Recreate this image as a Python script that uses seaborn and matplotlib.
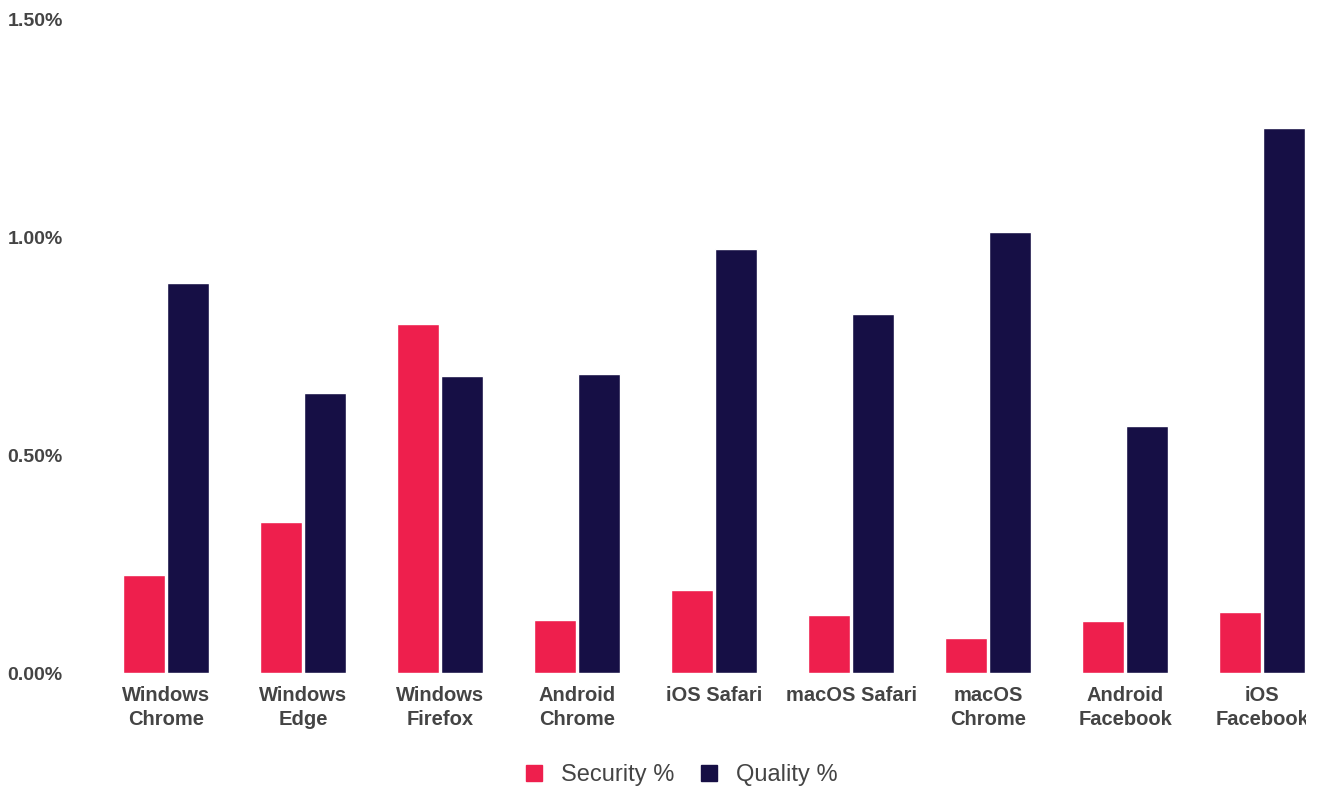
import matplotlib
matplotlib.use("Agg")
import matplotlib.pyplot as plt
import seaborn as sns
import pandas as pd
from matplotlib.ticker import FuncFormatter
from matplotlib.transforms import Bbox, TransformedBbox
from matplotlib.lines import Line2D

categories = ["Windows\nChrome", "Windows\nEdge", "Windows\nFirefox", "Android\nChrome",
              "iOS Safari", "macOS Safari", "macOS\nChrome", "Android\nFacebook", "iOS\nFacebook"]
security = [0.225, 0.346, 0.800, 0.122, 0.190, 0.133, 0.080, 0.119, 0.140]
quality = [0.894, 0.642, 0.681, 0.686, 0.972, 0.823, 1.011, 0.567, 1.250]
series = ["Security %", "Quality %"]
colors = ["#EE1F4D", "#160F45"]
yticks = [0.0, 0.5, 1.0, 1.5]

df = pd.DataFrame({
    "Browser": categories * 2,
    "Series": [series[0]] * len(categories) + [series[1]] * len(categories),
    "Value": security + quality,
})

sns.set_theme(style="white")
plt.rcParams['font.family'] = ['Liberation Sans', 'DejaVu Sans']

fig = plt.figure(figsize=(13.24, 7.89), dpi=100)
ax = fig.add_axes([97.5 / 1324, 116 / 789, 1233 / 1324, (770 - 116) / 789])

sns.barplot(data=df, x="Browser", y="Value", hue="Series", palette=colors,
            width=0.645, gap=0.04, ax=ax, legend=False, saturation=1)

ax.set_xlim(-0.5, 8.5)
ax.set_ylim(0, 1.5)
ax.set_yticks(yticks)
ax.yaxis.set_major_formatter(FuncFormatter(lambda v, p: f"{v:.2f}%"))
ax.set_xlabel("")
ax.set_ylabel("")
for s in ax.spines.values():
    s.set_visible(False)
ax.tick_params(axis="y", length=0, pad=25, labelsize=14, labelcolor="#444444")
ax.tick_params(axis="x", length=0, pad=9.5, labelsize=14.5, labelcolor="#444444")
for lbl in ax.get_yticklabels() + ax.get_xticklabels():
    lbl.set_fontweight("bold")
clipbox = TransformedBbox(Bbox([[0, 0], [1306 / 1324, 1]]), fig.transFigure)
for lbl in ax.get_xticklabels():
    lbl.set_linespacing(1.32)
    lbl.set_clip_on(True)
    lbl.set_clip_box(clipbox)

handles = [Line2D([0], [0], marker="s", linestyle="", markersize=11,
                  markerfacecolor=c, markeredgecolor=c) for c in colors]
leg = fig.legend(handles, series, loc="center", bbox_to_anchor=(674 / 1324, 1 - 775 / 789),
                 ncol=2, frameon=False, fontsize=17, handletextpad=0.15, columnspacing=0.45)
for t in leg.get_texts():
    t.set_color("#444444")

fig.savefig("out.png", dpi=100)
